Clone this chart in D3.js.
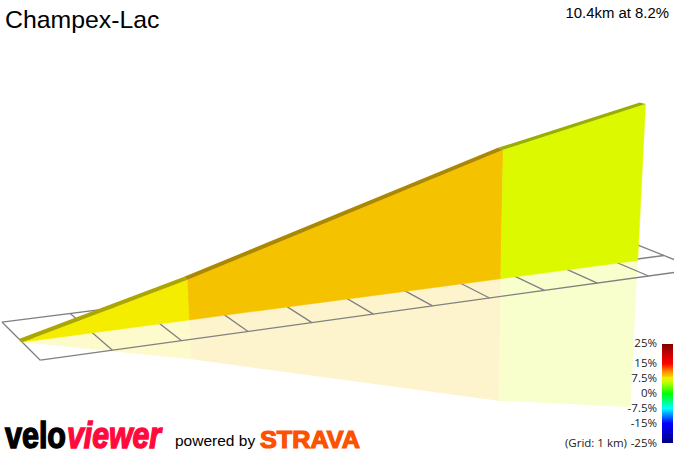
<!DOCTYPE html>
<html>
<head>
<meta charset="utf-8">
<script src="https://cdn.jsdelivr.net/npm/d3@7"></script>
<style>
html,body{margin:0;padding:0;background:#fff;overflow:hidden}
svg{display:block}
</style>
</head>
<body>
<svg id="chart" width="674" height="451"></svg>
<script>
const climbName = "Champex-Lac";
const climbSummary = "10.4km at 8.2%";
const segmentKm = [0, 2.45, 7.72, 10.4];
const elevationM = [0, 196, 675, 850];
const segmentGrades = [8.0, 9.0, 6.8];
const gridKm = [0,1,2,3,4,5,6,7,8,9,10,11];
const gridAcross = [-1,0,1];
const legendTicks = [25,15,7.5,0,-7.5,-15,-25];
const legendLabels = ["25%","15%","7.5%","0%","-7.5%","-15%","-25%"];
const gradeStops = [-25,-20,-15,-10,-7.5,-4,0,5,6.8,8,9,11,15,20,25];
const gradeColors = ["#00007f","#0000c8","#0000ff","#00aaff","#00ffff","#00ff80","#00ff00","#aaff00","#dcf900","#f5ed00","#f5c200","#ff9000","#ff0000","#c80000","#7f0000"];

const svg = d3.select("#chart");
const gradeColor = d3.scaleLinear().domain(gradeStops).range(gradeColors);
const kmFromM = d3.scaleLinear().domain([0,1000]).range([0,1]);

// Camera: a projective map from (km along, km across, km up) to the page.
function project(u, v, z){
  const w = 1 + 0.02034*u + 0.0331*v - 0.047*z;
  return [(20.5 + 72.0*u - 18.5*v - 19.3*z)/w, (340.5 - 2.53*u - 7.8*v - 227.4*z)/w];
}
const roadHalf = 0.085;
const path = d3.line();

const segments = segmentGrades.map((g,i)=>({
  grade:g, u0:segmentKm[i], u1:segmentKm[i+1],
  z0:kmFromM(elevationM[i]), z1:kmFromM(elevationM[i+1])
}));

// Reflection
svg.append("g").selectAll("path").data(segments).join("path")
  .attr("d",s=>path([project(s.u0,-roadHalf,0),project(s.u0,-roadHalf,-s.z0),project(s.u1,-roadHalf,-s.z1),project(s.u1,-roadHalf,0)])+"Z")
  .attr("fill",s=>gradeColor(s.grade)).attr("fill-opacity",0.2);

// Grid
const gridG = svg.append("g").attr("fill","none").attr("stroke","#808080").attr("stroke-width",1.3);
gridG.selectAll("path.along").data(gridAcross).join("path").attr("class","along")
  .attr("d",v=>path([project(d3.min(gridKm),v,0),project(d3.max(gridKm),v,0)]));
gridG.selectAll("path.across").data(gridKm).join("path").attr("class","across")
  .attr("d",u=>path([project(u,d3.min(gridAcross),0),project(u,d3.max(gridAcross),0)]));

// Wall
svg.append("g").selectAll("path").data(segments).join("path")
  .attr("d",s=>path([project(s.u0,-roadHalf,0),project(s.u0,-roadHalf,s.z0),project(s.u1,-roadHalf,s.z1),project(s.u1,-roadHalf,0)])+"Z")
  .attr("fill",s=>gradeColor(s.grade)).attr("stroke",s=>gradeColor(s.grade)).attr("stroke-width",0.5);

// Road surface on top of the wall
svg.append("g").selectAll("path").data(segments).join("path")
  .attr("d",s=>path([project(s.u0,-roadHalf,s.z0),project(s.u0,roadHalf,s.z0),project(s.u1,roadHalf,s.z1),project(s.u1,-roadHalf,s.z1)])+"Z")
  .attr("fill",s=>d3.color(gradeColor(s.grade)).darker(1).formatHex());

// Title texts
const sans = "'Liberation Sans',Arial,sans-serif";
svg.append("text").attr("x",5).attr("y",28).attr("font-family",sans).attr("font-size",24.8).attr("fill","#000").text(climbName);
svg.append("text").attr("x",669).attr("y",18).attr("text-anchor","end").attr("font-family",sans).attr("font-size",14.9).attr("fill","#000").text(climbSummary);

// Legend
const legendY = d3.scaleLinear().domain([25,-25]).range([343,442.5]);
const defs = svg.append("defs");
const grad = defs.append("linearGradient").attr("id","gradeBar").attr("x1",0).attr("x2",0).attr("y1",0).attr("y2",1);
grad.selectAll("stop").data(gradeStops.slice().reverse()).join("stop")
  .attr("offset",d=>(25-d)/50).attr("stop-color",d=>gradeColor(d));
svg.append("rect").attr("x",662).attr("y",344).attr("width",11).attr("height",99).attr("fill","url(#gradeBar)");
svg.append("g").selectAll("text").data(legendTicks).join("text")
  .attr("x",657).attr("y",d=>legendY(d)).attr("dy","0.35em").attr("text-anchor","end")
  .attr("font-family","'Open Sans',sans-serif").attr("font-size",11.5).attr("fill","#222")
  .text((d,i)=>legendLabels[i]);
svg.append("text").attr("x",627).attr("y",legendY(-25)).attr("dy","0.35em").attr("text-anchor","end")
  .attr("font-family","'Open Sans',sans-serif").attr("font-size",11.5).attr("fill","#222").text("(Grid: 1 km)");

// Logos
svg.append("text").attr("x",5).attr("y",447.5).attr("font-family",sans).attr("font-weight",700).attr("font-size",37)
  .attr("textLength",61).attr("lengthAdjust","spacingAndGlyphs").attr("fill","#000").attr("stroke","#000").attr("stroke-width",1.5).text("velo");
svg.append("text").attr("x",67).attr("y",447.5).attr("font-family",sans).attr("font-weight",700).attr("font-style","italic").attr("font-size",37)
  .attr("textLength",94).attr("lengthAdjust","spacingAndGlyphs").attr("fill","#ff0a3c").attr("stroke","#ff0a3c").attr("stroke-width",1.5).text("viewer");
svg.append("text").attr("x",175).attr("y",445.5).attr("font-family",sans).attr("font-size",15.5).attr("fill","#000").text("powered by");
svg.append("text").attr("x",260).attr("y",448).attr("font-family",sans).attr("font-weight",700).attr("font-size",24)
  .attr("textLength",100).attr("lengthAdjust","spacingAndGlyphs").attr("fill","#fc5200").attr("stroke","#fc5200").attr("stroke-width",1.2).text("STRAVA");
</script>
</body>
</html>
